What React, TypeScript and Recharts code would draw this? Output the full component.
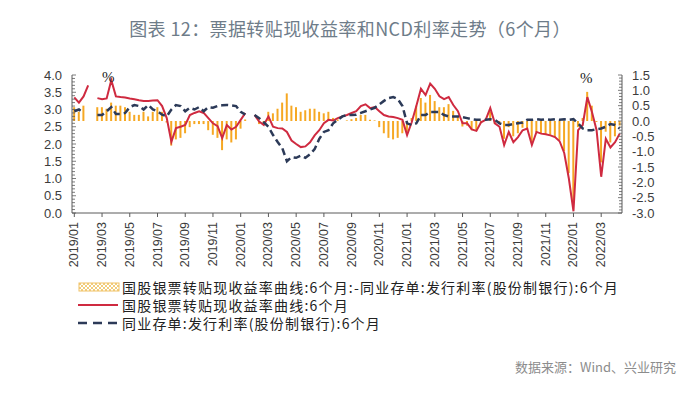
import React from 'react';
import { ComposedChart, Bar, Line, XAxis, YAxis } from 'recharts';

// one point every ~10 days, 2019/01 - 2022/04
const tickLabels = [
  '2019/01', '2019/03', '2019/05', '2019/07', '2019/09', '2019/11',
  '2020/01', '2020/03', '2020/05', '2020/07', '2020/09', '2020/11',
  '2021/01', '2021/03', '2021/05', '2021/07', '2021/09', '2021/11',
  '2022/01', '2022/03',
];

// 国股银票转贴现收益率曲线:6个月 (left axis)
const discountRate = [
  3.35, 3.2, 3.38, 3.7, null, 3.33, 3.3, 3.32, 3.85, 3.38,
  3.36, 3.35, 3.32, 3.3, 3.27, 3.25, 3.25, 3.26, 3.27, 3.1,
  2.75, 2.06, 2.46, 2.5, 2.55, 2.84, 2.9, 2.95, 2.9, 2.75,
  2.6, 2.52, 2.17, 2.55, 2.42, 2.5, 2.7, 2.9, null, 2.84,
  2.65, 2.55, 2.8, 2.5, 2.46, 2.45, 2.35, 2.1, 2.0, 1.91,
  1.93, 2.05, 2.25, 2.4, 2.6, 2.7, 2.68, 2.75, 2.8, 2.84,
  2.9, 2.95, 3.1, 3.15, 3.04, 3.07, 2.95, 2.84, 2.8, 2.78,
  2.75, 2.7, 2.26, 2.63, 3.1, 3.6, 3.42, 3.75, 3.6, 3.38,
  3.3, 3.36, 3.13, 2.95, 2.6, 2.6, 2.42, 2.38, 2.63, 2.7,
  3.04, 2.6, 2.5, 1.97, 2.35, 2.05, 2.2, 2.4, 2.45, 1.97,
  2.35, 2.3, 2.28, 2.25, 2.2, 2.08, 1.74, 1.0, 0.05, 2.4,
  2.55, 3.36, 2.93, 2.4, 1.05, 2.15, 1.9, 2.05, 2.3,
];

// 同业存单:发行利率(股份制银行):6个月 (left axis)
const ncdRate = [
  2.95, 3.0, 2.9, null, null, 2.84, 2.84, 2.95, 3.07, 2.87,
  2.87, 2.9, 3.07, 3.13, 3.1, 3.0, 3.13, 3.0, 2.95, 2.85,
  2.8, 3.0, 3.13, 3.1, 2.95, 3.05, 3.0, 3.07, 2.95, 3.07,
  3.05, 3.1, 3.12, 3.13, 3.12, 3.1, 2.93, 2.85, null, 2.84,
  2.75, 2.63, 2.5, 2.26, 2.06, 1.88, 1.5, 1.62, 1.6, 1.66,
  1.6, 1.7, 1.85, 2.15, 2.35, 2.4, 2.6, 2.7, 2.8, 2.84,
  2.84, 2.85, 2.9, 2.95, 3.0, 3.05, 3.15, 3.25, 3.33, 3.36,
  3.3, 3.1, 2.6, 2.55, 2.6, 2.84, 2.84, 2.93, 2.93, 2.93,
  2.84, 2.8, 2.8, 2.8, 2.78, 2.75, 2.72, 2.7, 2.7, 2.7,
  2.72, 2.7, 2.6, 2.55, 2.55, 2.58, 2.6, 2.62, 2.7, 2.7,
  2.72, 2.7, 2.72, 2.7, 2.72, 2.7, 2.72, 2.7, 2.72, 2.6,
  2.45, 2.4, 2.4, 2.43, 2.45, 2.5, 2.58, 2.55, 2.45,
];

// 转贴现收益率 - 同业存单利率 (right axis)
const spread = [
  0.45, 0.3, 0.5, null, null, 0.45, 0.45, 0.4, 0.6, 0.5,
  0.5, 0.45, 0.3, 0.2, 0.2, 0.3, 0.15, 0.3, 0.45, 0.3,
  -0.05, -0.8, -0.6, -0.55, -0.4, -0.2, -0.1, -0.1, -0.1, -0.3,
  -0.45, -0.55, -0.95, -0.6, -0.7, -0.6, -0.25, 0.05, null, 0.0,
  -0.1, -0.08, 0.3, 0.25, 0.4, 0.6, 0.9, 0.5, 0.45, 0.3,
  0.35, 0.4, 0.4, 0.3, 0.25, 0.3, 0.1, 0.05, 0.0, 0.02,
  0.06, 0.1, 0.2, 0.2, 0.04, 0.02, -0.2, -0.4, -0.55, -0.6,
  -0.55, -0.4, -0.35, 0.1, 0.5, 0.75, 0.6, 0.85, 0.65, 0.45,
  0.45, 0.55, 0.33, 0.15, -0.18, -0.15, -0.3, -0.32, -0.07, 0.0,
  0.3, -0.1, -0.1, -0.58, -0.2, -0.5, -0.4, -0.22, -0.25, -0.72,
  -0.37, -0.4, -0.44, -0.45, -0.52, -0.62, -0.98, -1.7, -2.65, -0.2,
  0.1, 0.95, 0.5, -0.03, -1.35, -0.35, -0.7, -0.5, -0.15,
];

const leftTicks = [0, 0.5, 1, 1.5, 2, 2.5, 3, 3.5, 4];
const rightTicks = [-3, -2.5, -2, -1.5, -1, -0.5, 0, 0.5, 1, 1.5];

const data = discountRate.map((v, i) => ({
  idx: i,
  discount: v,
  ncd: ncdRate[i],
  spread: spread[i],
}));

// minor ticks every 0.1 on both value axes
const leftMinor = Array.from({ length: 41 }, (_, i) => i / 10);
const rightMinor = Array.from({ length: 46 }, (_, i) => (i - 30) / 10);

const axisColor = '#5a5a5a';
const labelColor = '#3c3c3c';
const numFont = '"Liberation Sans", Arial, sans-serif';
const cjkFont = '"Noto Sans CJK SC", "Noto Sans", sans-serif';

const isLabel = (list: number[], v: number) => list.some((t) => Math.abs(t - v) < 1e-6);

const LeftTick = (props: any) => {
  const { x, y, payload } = props;
  const ax = x + 10;
  const v = payload.value;
  const major = isLabel(leftTicks, v);
  return (
    <g>
      <line x1={ax} x2={ax + (major ? 4 : 3)} y1={y} y2={y} stroke={axisColor} strokeWidth={0.8} />
      {major && (
        <text x={x} y={y} dy="0.36em" textAnchor="end" fontSize={13} fontFamily={numFont} fill={labelColor}>
          {v.toFixed(1)}
        </text>
      )}
    </g>
  );
};

const RightTick = (props: any) => {
  const { x, y, payload } = props;
  const ax = x - 10;
  const v = payload.value;
  const major = isLabel(rightTicks, v);
  return (
    <g>
      <line x1={ax} x2={ax - (major ? 4 : 3)} y1={y} y2={y} stroke={axisColor} strokeWidth={0.8} />
      {major && (
        <text x={x} y={y} dy="0.36em" textAnchor="start" fontSize={13} fontFamily={numFont} fill={labelColor}>
          {v.toFixed(1)}
        </text>
      )}
    </g>
  );
};

const DateTick = (props: any) => {
  const { x, y, payload } = props;
  const label = tickLabels[Math.round(payload.value / 6)];
  return (
    <text
      x={x}
      y={y}
      transform={`rotate(-90 ${x} ${y})`}
      textAnchor="end"
      dominantBaseline="central"
      fontSize={12.5}
      fontFamily={numFont}
      fill={labelColor}
    >
      {label}
    </text>
  );
};

const Legend = () => (
  <div
    style={{
      position: 'absolute',
      left: 78,
      top: 278,
      fontFamily: cjkFont,
      fontSize: 14,
      letterSpacing: 1.2,
      color: '#222',
      lineHeight: '18px',
    }}
  >
    <div style={{ display: 'flex', alignItems: 'center' }}>
      <svg width={44} height={18}>
        <defs>
          <pattern id="hatch" width={4} height={4} patternUnits="userSpaceOnUse">
            <path d="M0,0 L4,4 M4,0 L0,4" stroke="#efc05a" strokeWidth={0.8} />
          </pattern>
        </defs>
        <rect x={1} y={5} width={40} height={8} fill="url(#hatch)" stroke="#f0c266" strokeWidth={1} />
      </svg>
      <span>国股银票转贴现收益率曲线:6个月:-同业存单:发行利率(股份制银行):6个月</span>
    </div>
    <div style={{ display: 'flex', alignItems: 'center' }}>
      <svg width={44} height={18}>
        <line x1={0} x2={40} y1={9} y2={9} stroke="#cf2a40" strokeWidth={2} />
      </svg>
      <span>国股银票转贴现收益率曲线:6个月</span>
    </div>
    <div style={{ display: 'flex', alignItems: 'center' }}>
      <svg width={44} height={18}>
        <line x1={0} x2={40} y1={9} y2={9} stroke="#2c3a58" strokeWidth={2.5} strokeDasharray="9 6" />
      </svg>
      <span>同业存单:发行利率(股份制银行):6个月</span>
    </div>
  </div>
);

export default function App() {
  return (
    <div style={{ position: 'absolute', left: 0, top: 0, width: 700, height: 404, background: '#fff', overflow: 'hidden' }}>
      <div
        style={{
          position: 'absolute',
          top: 15,
          width: 700,
          textAlign: 'center',
          fontFamily: cjkFont,
          fontSize: 18,
          fontWeight: 400,
          letterSpacing: 0.4,
          color: '#6e7c89',
        }}
      >
        图表 12：票据转贴现收益率和NCD利率走势（6个月）
      </div>

      <div style={{ position: 'absolute', left: 0, top: 0 }}>
        <ComposedChart
          width={700}
          height={270}
          data={data}
          margin={{ top: 75, right: 0, bottom: 2, left: 0 }}
          barCategoryGap="25%"
        >
          <XAxis
            dataKey="idx"
            interval={5}
            tick={<DateTick />}
            tickSize={4}
            tickMargin={5}
            height={55}
            stroke={axisColor}
          />
          <YAxis
            yAxisId="left"
            domain={[0, 4]}
            ticks={leftMinor}
            interval={0}
            width={72}
            tickSize={0}
            tickMargin={10}
            tick={<LeftTick />}
            stroke={axisColor}
            allowDataOverflow
          />
          <YAxis
            yAxisId="right"
            orientation="right"
            domain={[-3, 1.5]}
            ticks={rightMinor}
            interval={0}
            width={78}
            tickSize={0}
            tickMargin={10}
            tick={<RightTick />}
            stroke={axisColor}
            allowDataOverflow
          />
          <Bar yAxisId="right" dataKey="spread" fill="#f6a823" isAnimationActive={false} />
          <Line
            yAxisId="left"
            type="linear"
            dataKey="discount"
            stroke="#cf2a40"
            strokeWidth={2}
            dot={false}
            isAnimationActive={false}
          />
          <Line
            yAxisId="left"
            type="linear"
            dataKey="ncd"
            stroke="#2c3a58"
            strokeWidth={2.5}
            strokeDasharray="7 4"
            dot={false}
            isAnimationActive={false}
          />
        </ComposedChart>
      </div>

      <div style={{ position: 'absolute', left: 102, top: 69, fontFamily: '"Liberation Serif", serif', fontSize: 15, color: '#222' }}>%</div>
      <div style={{ position: 'absolute', left: 580, top: 70, fontFamily: '"Liberation Serif", serif', fontSize: 15, color: '#222' }}>%</div>

      <Legend />

      <div style={{ position: 'absolute', right: 24, top: 357, fontFamily: cjkFont, fontSize: 13, color: '#8c8c8c' }}>
        数据来源：Wind、兴业研究
      </div>
    </div>
  );
}
